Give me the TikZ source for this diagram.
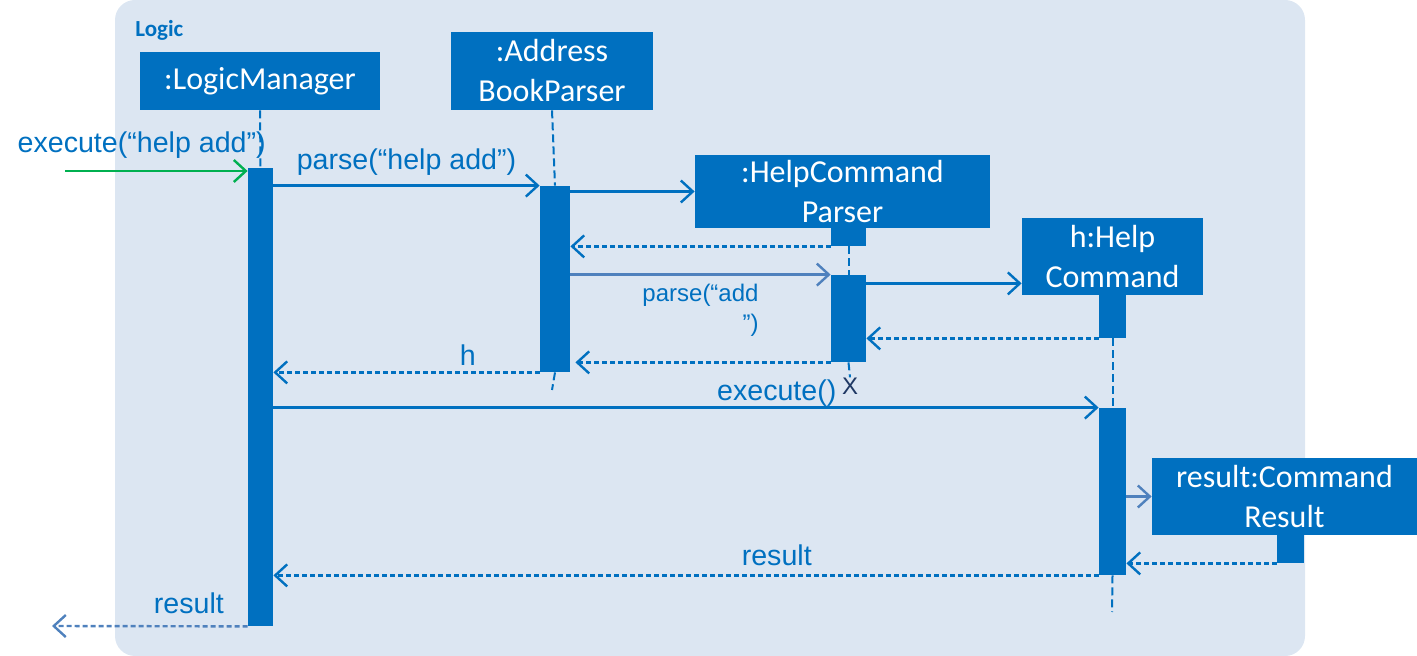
\documentclass[tikz,border=0pt]{standalone}
\usepackage{fontspec}
\setmainfont{Liberation Sans}
\newfontfamily\calibri{Carlito}
\usetikzlibrary{arrows.meta,calc,fit}
\definecolor{umlblue}{HTML}{0070C0}
\definecolor{umlpale}{HTML}{4F81BD}
\definecolor{umlback}{HTML}{DCE6F2}
\definecolor{umlgreen}{HTML}{00B050}
\definecolor{umlnavy}{HTML}{1F3864}
\tikzset{
  obj/.style={fill=umlblue, text=white, align=center, inner sep=0pt,
    font=\calibri\fontsize{16}{20}\selectfont},
  act/.style={fill=umlblue, inner sep=0pt},
  life/.style={umlblue, line width=1pt, dash pattern=on 4pt off 2pt},
  call/.style={umlblue, line width=1.2pt,
    -{Straight Barb[length=6pt,width=11pt,line width=1.2pt]}},
  ret/.style={call, dash pattern=on 2.5pt off 1.5pt},
  msg/.style={text=umlblue, font=\fontsize{14.3}{16}\selectfont},
  smallmsg/.style={text=umlblue, font=\fontsize{12}{15}\selectfont},
}
\begin{document}
\begin{tikzpicture}[x=0.5pt, y=-0.5pt]
  \useasboundingbox (0,0) rectangle (1417,656);
  \fill[umlback, rounded corners=10pt] (115,0) rectangle (1305,656);
  \node (logic) [anchor=west, text=umlblue, inner sep=0pt,
    font=\calibri\bfseries\fontsize{11.5}{12}\selectfont] at (135,30) {Logic};

  \node (LM) [obj, minimum width=120pt, minimum height=29pt] at (260,81) {:LogicManager};
  \node (ABP) [obj, minimum width=101pt, minimum height=39pt] at (552,71) {:Address\\BookParser};
  \node (HCP) [obj, minimum width=147.5pt, minimum height=36.5pt] at (842.5,191.5) {:HelpCommand\\Parser};
  \node (HC) [obj, minimum width=90.5pt, minimum height=38.5pt] at (1112.5,256.5) {h:Help\\Command};
  \node (R) [obj, minimum width=132.5pt, minimum height=38.5pt] at (1284.5,496.5) {result:Command\\Result};

  \node (aLM) [act, fit={(248,168) (273,626)}] {};
  \node (aABP) [act, fit={(540,186) (570,372)}] {};
  \node (aHCP0) [act, fit={(831,228) (866,246)}] {};
  \node (aHCP) [act, fit={(831,275) (866,362)}] {};
  \node (aHC0) [act, fit={(1099,295) (1126,338)}] {};
  \node (aHC) [act, fit={(1099,408) (1126,575)}] {};
  \node (aR0) [act, fit={(1277,535) (1304,563)}] {};

  \node (xHCP) [text=umlnavy, inner sep=0pt, font=\fontsize{12}{12}\selectfont] at (850,386) {X};
  \coordinate (endABP) at (552,390);
  \coordinate (endHC) at (1112,612);
  \coordinate (in) at (65,171);
  \coordinate (out) at (52,626);
  \coordinate (HCin) at ($(HC.south west)+(0,-12)$);
  \coordinate (ABPin) at ($(aABP.south east)+(5,-10)$);

  \draw[life] (LM.south) -- (aLM.north);
  \draw[life] (ABP.south) -- (aABP.north);
  \draw[life] (aABP.south) -- (endABP);
  \draw[life] (aHCP0.south) -- (aHCP.north);
  \draw[life] (aHCP.south) -- (xHCP.north);
  \draw[life] (aHC0.south) -- (aHC.north);
  \draw[life] (aHC.south) -- (endHC);

  \draw[call, umlgreen] (in) to node [msg, above=2.5pt, pos=0.42] {execute(“help add”)} (in -| aLM.west);
  \draw[call] (aLM.east |- aABP.north) to node [msg, above=1pt] {parse(“help add”)} (aABP.north west);
  \draw[call] (aABP.east |- HCP.west) to (HCP.west);
  \draw[ret] (aHCP0.south west) to (aABP.east |- aHCP0.south);
  \draw[call, umlpale] (aABP.east |- aHCP.north) to node [smallmsg, below=1pt, align=right] {parse(“add\\”)} (aHCP.north west);
  \draw[call] (aHCP.east |- HCin) to (HCin);
  \draw[ret] (aHC0.south west) to (aHCP.east |- aHC0.south);
  \draw[ret] (aHCP.south west) to (ABPin);
  \draw[ret] (aABP.south west) to node [msg, above=-0.5pt, pos=0.27] {h} (aLM.east |- aABP.south);
  \draw[call] (aLM.east |- aHC.north) to node [msg, above=-3.5pt, pos=0.61] {execute()} (aHC.north west);
  \draw[call, umlpale] (aHC.east |- R.west) to (R.west);
  \draw[ret] (aR0.south west) to (aHC.east |- aR0.south);
  \draw[ret] (aHC.south west) to node [msg, above=1pt, pos=0.39] {result} (aLM.east |- aHC.south);
  \draw[ret, umlpale] (aLM.south west) to node [msg, above=2.5pt, pos=0.3] {result} (out);
\end{tikzpicture}
\end{document}
